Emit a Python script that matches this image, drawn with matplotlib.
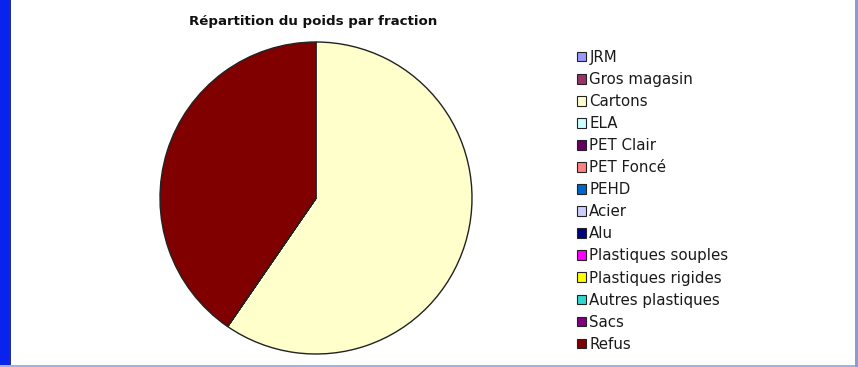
import matplotlib
matplotlib.use("Agg")
import matplotlib.pyplot as plt
from matplotlib.patches import Rectangle, Patch

title = "Répartition du poids par fraction"
categories = ["JRM", "Gros magasin", "Cartons", "ELA", "PET Clair", "PET Foncé", "PEHD",
              "Acier", "Alu", "Plastiques souples", "Plastiques rigides",
              "Autres plastiques", "Sacs", "Refus"]
values = [0, 0, 59.6, 0, 0, 0, 0, 0, 0, 0, 0, 0, 0, 40.4]
colors = ["#9999FF", "#993366", "#FFFFCC", "#CCFFFF", "#660066", "#FF8080", "#0066CC",
          "#CCCCFF", "#000080", "#FF00FF", "#FFFF00", "#33D6CC", "#800080", "#800000"]

W, H = 858, 367
fig = plt.figure(figsize=(W / 100, H / 100), dpi=100)
fig.patch.set_facecolor("white")

# frame decorations
fig.patches.append(Rectangle((0, 0), 9 / W, 1, transform=fig.transFigure,
                             facecolor="#0A22EE", edgecolor="none", zorder=0))
fig.patches.append(Rectangle((9 / W, 0), 1.5 / W, 1, transform=fig.transFigure,
                             facecolor="#22337A", edgecolor="none", zorder=0))
fig.patches.append(Rectangle((0, 0), 1, 2 / H, transform=fig.transFigure,
                             facecolor="#9FB3DD", edgecolor="none", zorder=0))
fig.patches.append(Rectangle((855 / W, 0), 3 / W, 1, transform=fig.transFigure,
                             facecolor="#8C9CCC", edgecolor="none", zorder=0))

# pie axes: center (316,198), radius 156 px
cx, cy, r = 316, 198, 156
lim = 1.0
ax = fig.add_axes([(cx - r) / W, (H - cy - r) / H, 2 * r / W, 2 * r / H])
wedges, _ = ax.pie(values, colors=colors, startangle=90, counterclock=False,
                   wedgeprops=dict(edgecolor="#222222", linewidth=1.0))
for w in wedges:
    w.set_clip_on(False)
ax.set_xlim(-lim, lim)
ax.set_ylim(-lim, lim)
ax.set_aspect("equal")
ax.axis("off")

fig.text(313 / W, 1 - 22 / H, title, ha="center", va="center",
         fontsize=9.6, fontweight="bold", family="DejaVu Sans", color="#111111")

handles = [Patch(facecolor=c, edgecolor="#222222", linewidth=0.8) for c in colors]
fig.legend(handles, categories, loc="upper left",
           bbox_to_anchor=(577 / W, 1 - 50 / H), frameon=False,
           borderpad=0, borderaxespad=0,
           handlelength=0.6, handleheight=0.6, handletextpad=0.22,
           labelspacing=0.47, labelcolor="#1a1a1a",
           prop={"family": "DejaVu Sans", "size": 10.8})

fig.savefig("out.png", dpi=100)
